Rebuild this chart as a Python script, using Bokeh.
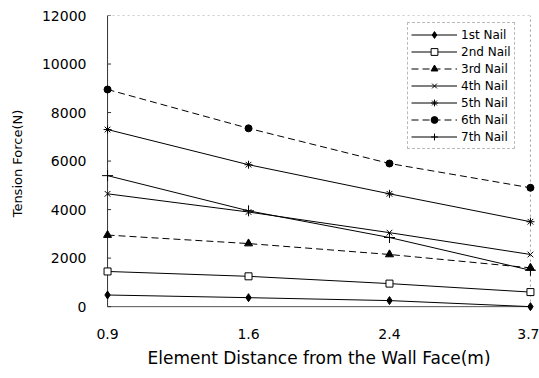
from bokeh.plotting import figure
from bokeh.models import Range1d, FixedTicker, Legend, LegendItem
from bokeh.embed import file_html
from bokeh.resources import INLINE

# ---- data ----
x_labels = ["0.9", "1.6", "2.4", "3.7"]
nail1 = [480, 370, 250, 0]
nail2 = [1450, 1250, 950, 600]
nail3 = [2950, 2600, 2150, 1600]
nail4 = [4650, 3900, 3050, 2150]
nail5 = [7300, 5850, 4650, 3500]
nail6 = [8950, 7350, 5900, 4900]
nail7 = [5400, 3950, 2850, 1500]
series_names = ["1st Nail", "2nd Nail", "3rd Nail", "4th Nail", "5th Nail", "6th Nail", "7th Nail"]
y_ticks = [0, 2000, 4000, 6000, 8000, 10000, 12000]

xs = list(range(len(x_labels)))
series = [nail1, nail2, nail3, nail4, nail5, nail6, nail7]
markers = ["diamond", "square", "triangle", "x", "asterisk", "circle", "cross"]
sizes = [8, 7, 8, 8, 8, 7, 11]
fills = ["black", "white", "black", "black", "black", "black", "black"]
dashes = ["solid", "solid", "7 4", "solid", "solid", "7 4", "solid"]

FONT = "DejaVu Sans"

p = figure(width=539, height=378, output_backend="svg", toolbar_location=None,
           x_range=Range1d(-0.05, len(xs) - 1 + 0.05),
           y_range=Range1d(-200, y_ticks[-1]),
           min_border_left=100, min_border_right=2, min_border_top=15, min_border_bottom=67)
p.outline_line_color = None
p.xgrid.grid_line_color = None
p.ygrid.grid_line_color = None
p.background_fill_color = "white"
p.border_fill_color = "white"

# axes styling
for ax in (p.xaxis[0], p.yaxis[0]):
    ax.axis_line_color = None
    ax.major_tick_line_color = None
    ax.minor_tick_line_color = None
    ax.major_label_text_font = FONT
    ax.major_label_text_font_size = "14px"
    ax.major_label_text_color = "black"
    ax.axis_label_text_font = FONT
    ax.axis_label_text_font_style = "normal"
    ax.axis_label_text_color = "black"

p.xaxis.ticker = FixedTicker(ticks=xs)
p.xaxis.major_label_overrides = {i: lab for i, lab in enumerate(x_labels)}
p.xaxis.major_label_standoff = 11
p.xaxis.axis_label = "Element Distance from the Wall Face(m)"
p.xaxis.axis_label_text_font_size = "17px"
p.xaxis.axis_label_standoff = 6

p.yaxis.ticker = FixedTicker(ticks=y_ticks)
p.yaxis.major_label_standoff = 8
p.yaxis.axis_label = "Tension Force(N)"
p.yaxis.axis_label_text_font_size = "13px"
p.yaxis.axis_label_standoff = 14

# frame: dotted top and right edges
p.segment(x0=[xs[0]], y0=[y_ticks[-1]], x1=[xs[-1]], y1=[y_ticks[-1]],
          line_color="#999999", line_dash="2 3", line_width=1)
p.segment(x0=[xs[-1]], y0=[y_ticks[0]], x1=[xs[-1]], y1=[y_ticks[-1]],
          line_color="#999999", line_dash="2 3", line_width=1)
# axis lines
p.segment(x0=[xs[0]], y0=[y_ticks[0]], x1=[xs[-1]], y1=[y_ticks[0]],
          line_color="#555555", line_width=1)
p.segment(x0=[xs[0]], y0=[y_ticks[0]], x1=[xs[0]], y1=[y_ticks[-1]],
          line_color="#333333", line_width=1)
# small inward ticks on left axis
p.segment(x0=[xs[0]] * len(y_ticks), y0=y_ticks, x1=[xs[0] + 0.025] * len(y_ticks), y1=y_ticks,
          line_color="#333333", line_width=1)

items = []
for name, ys, m, s, f, d in zip(series_names, series, markers, sizes, fills, dashes):
    ln = p.line(xs, ys, line_color="black", line_width=1, line_dash=d)
    sc = p.scatter(xs, ys, marker=m, size=s, line_color="black", fill_color=f, line_width=1)
    items.append(LegendItem(label=name, renderers=[ln, sc]))

legend = Legend(items=items, location=(307, 162),
                label_text_font=FONT, label_text_font_size="12px", label_text_color="black",
                glyph_width=46, glyph_height=17, label_height=17, label_standoff=4,
                spacing=0, padding=3, margin=0,
                border_line_color="#777777", border_line_width=1, border_line_dash="3 2",
                background_fill_color="white", background_fill_alpha=1.0)
p.add_layout(legend, "center")

open("out.html", "w").write(file_html(p, INLINE))
